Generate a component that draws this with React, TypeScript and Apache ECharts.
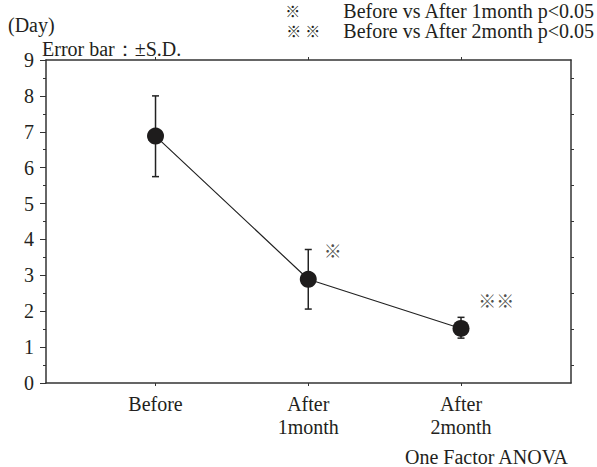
import React, { useEffect, useRef } from "react";
import * as echarts from "echarts";

const categories = ["Before", "After\n1month", "After\n2month"];
const catPositions = [1, 2, 3];
const means = [6.88, 2.89, 1.52];
const sdLow = [5.75, 2.06, 1.25];
const sdHigh = [8.0, 3.72, 1.83];
const yRightTicks = [0.5, 1.5, 2.5, 3.5, 4.5, 5.5, 6.5, 7.5, 8.5];
const annotX = [2.16, 3.23];
const annotY = [3.7, 2.3];
const annotText = ["※", "※※"];

const FONT = "Liberation Serif, Times New Roman, serif";
const CJK = "Noto Sans CJK JP, sans-serif";
const TXT = "#231f20";
const AX = "#333";

export default function App() {
  const ref = useRef<HTMLDivElement>(null);
  useEffect(() => {
    if (!ref.current) return;
    const chart = echarts.init(ref.current, null, { renderer: "svg" });
    const xMin = 0.283;
    const xMax = 3.72;
    const txt = (text: string, x: number, y: number, extra: any = {}) => ({
      type: "text",
      x,
      y,
      style: {
        text,
        fontFamily: FONT,
        fontSize: 20,
        fill: TXT,
        verticalAlign: "middle",
        ...extra,
      },
    });
    const rich = {
      m: { fontFamily: CJK, fontSize: 15, lineHeight: 18, fill: TXT, color: TXT },
      g1: { width: 42, fontSize: 10, lineHeight: 18 },
      g2: { width: 4, fontSize: 10, lineHeight: 18 },
      g3: { width: 22, fontSize: 10, lineHeight: 18 },
    };
    const option: any = {
      animation: false,
      backgroundColor: "#fff",
      textStyle: { fontFamily: FONT },
      grid: { left: 46, right: 26, top: 60, bottom: 84 },
      xAxis: [
        {
          type: "value",
          min: xMin,
          max: xMax,
          position: "bottom",
          splitLine: { show: false },
          axisLine: { show: true, onZero: false, lineStyle: { color: AX, width: 1.5 } },
          axisTick: { show: true, customValues: catPositions, length: 3, lineStyle: { color: AX, width: 1 } },
          axisLabel: {
            show: true,
            customValues: catPositions,
            formatter: (v: number) => categories[Math.round(v) - 1] ?? "",
            fontFamily: FONT,
            fontSize: 20,
            lineHeight: 23,
            color: TXT,
            margin: 9,
          },
        },
        {
          type: "value",
          min: xMin,
          max: xMax,
          position: "top",
          splitLine: { show: false },
          axisLine: { show: true, onZero: false, lineStyle: { color: AX, width: 1.5 } },
          axisTick: { show: true, customValues: catPositions, length: 3, lineStyle: { color: AX, width: 1 } },
          axisLabel: { show: false },
        },
      ],
      yAxis: [
        {
          type: "value",
          min: 0,
          max: 9,
          interval: 1,
          position: "left",
          splitLine: { show: false },
          axisLine: { show: true, onZero: false, lineStyle: { color: AX, width: 1.5 } },
          axisTick: { show: true, length: 6, lineStyle: { color: AX, width: 1 } },
          minorTick: { show: true, splitNumber: 2, length: 3, lineStyle: { color: AX, width: 1 } },
          minorSplitLine: { show: false },
          axisLabel: { fontFamily: FONT, fontSize: 20, color: TXT, margin: 12 },
        },
        {
          type: "value",
          min: 0,
          max: 9,
          interval: 1,
          position: "right",
          splitLine: { show: false },
          axisLine: { show: true, onZero: false, lineStyle: { color: AX, width: 1.5 } },
          axisTick: { show: true, customValues: yRightTicks, length: 3, lineStyle: { color: AX, width: 1 } },
          axisLabel: { show: false },
        },
      ],
      series: [
        {
          type: "custom",
          z: 1,
          data: catPositions.map((x, i) => [x, sdLow[i], sdHigh[i]]),
          renderItem: (params: any, api: any) => {
            const x = api.value(0);
            const lo = api.coord([x, api.value(1)]);
            const hi = api.coord([x, api.value(2)]);
            const w = 3.5;
            const style = { stroke: "#222", lineWidth: 1.5 };
            return {
              type: "group",
              children: [
                { type: "line", shape: { x1: lo[0], y1: lo[1], x2: hi[0], y2: hi[1] }, style },
                { type: "line", shape: { x1: lo[0] - w, y1: lo[1], x2: lo[0] + w, y2: lo[1] }, style },
                { type: "line", shape: { x1: hi[0] - w, y1: hi[1], x2: hi[0] + w, y2: hi[1] }, style },
              ],
            };
          },
        },
        {
          type: "line",
          z: 3,
          data: catPositions.map((x, i) => [x, means[i]]),
          symbol: "circle",
          symbolSize: 17,
          itemStyle: { color: "#1e1c1c" },
          lineStyle: { color: "#222", width: 1.2 },
        },
        {
          type: "scatter",
          z: 4,
          symbolSize: 1,
          itemStyle: { color: "rgba(0,0,0,0)" },
          data: annotX.map((x, i) => ({ value: [x, annotY[i]], name: annotText[i] })),
          label: {
            show: true,
            position: "inside",
            formatter: (p: any) => p.name,
            fontFamily: CJK,
            fontSize: 18,
            color: TXT,
            textBorderWidth: 0,
          },
        },
      ],
      graphic: [
        txt("(Day)", 8, 24.5),
        txt("Error bar：±S.D.", 42, 49),
        txt("{m|※}{g1| }Before vs After 1month p<0.05", 594, 10.5, { align: "right", lineHeight: 18, rich }),
        txt("{m|※}{g2| }{m|※}{g3| }Before vs After 2month p<0.05", 594, 30.5, {
          align: "right",
          lineHeight: 18,
          rich,
        }),
        txt("One Factor ANOVA", 568, 456.5, { align: "right" }),
      ],
    };
    chart.setOption(option);
    return () => chart.dispose();
  }, []);
  return (
    <div
      ref={ref}
      style={{ position: "fixed", left: 0, top: 0, width: 597, height: 467, background: "#fff" }}
    />
  );
}
